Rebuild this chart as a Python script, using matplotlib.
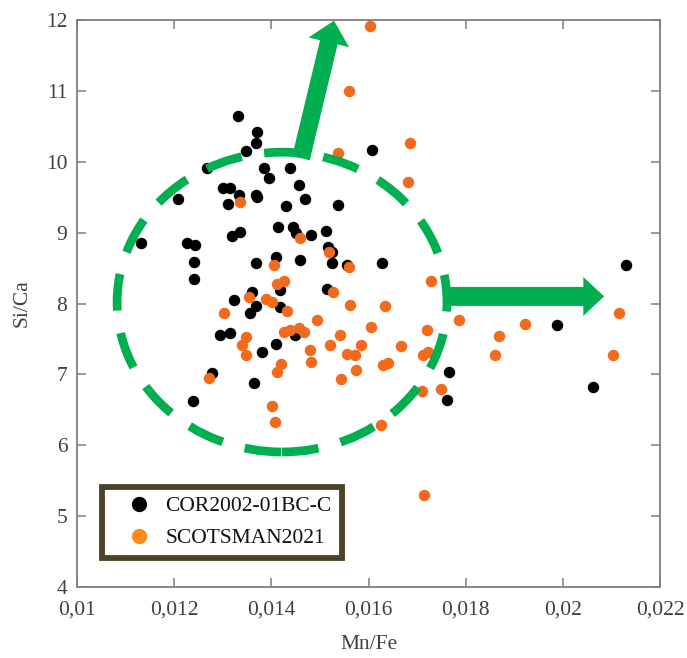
import matplotlib
matplotlib.use('Agg')
import matplotlib.pyplot as plt
from matplotlib.patches import Ellipse, ArrowStyle
from matplotlib.lines import Line2D

plt.rcParams['font.family'] = ['Liberation Serif', 'DejaVu Serif']

# COR2002-01BC-C (black)
cor_mnfe = [0.01331, 0.01371, 0.01368, 0.01347, 0.01607, 0.01267, 0.01384, 0.01438,
            0.01395, 0.01457, 0.01300, 0.01315, 0.01207, 0.01334, 0.01368, 0.01370,
            0.01310, 0.01469, 0.01430, 0.01538, 0.01414, 0.01445, 0.01451, 0.01481,
            0.01512, 0.01320, 0.01336, 0.01132, 0.01226, 0.01243, 0.01241, 0.01241,
            0.01517, 0.01525, 0.01525, 0.01555, 0.01627, 0.01368, 0.01410, 0.01458,
            0.01418, 0.01514, 0.01361, 0.01323, 0.01368, 0.01356, 0.01418, 0.01449,
            0.01294, 0.01315, 0.01410, 0.01380, 0.01277, 0.01364, 0.01238, 0.01766,
            0.01762, 0.01987, 0.02129, 0.02063]
cor_sica = [10.64, 10.42, 10.27, 10.15, 10.17, 9.91, 9.91, 9.91,
            9.77, 9.67, 9.63, 9.63, 9.47, 9.53, 9.53, 9.50,
            9.41, 9.47, 9.37, 9.39, 9.08, 9.08, 8.99, 8.97,
            9.02, 8.95, 9.01, 8.85, 8.85, 8.82, 8.59, 8.34,
            8.80, 8.73, 8.57, 8.55, 8.57, 8.57, 8.66, 8.62,
            8.19, 8.20, 8.16, 8.05, 7.96, 7.87, 7.95, 7.55,
            7.55, 7.59, 7.43, 7.31, 7.02, 6.88, 6.63, 7.03,
            6.64, 7.69, 8.54, 6.82]

# SCOTSMAN2021 (orange)
sco_mnfe = [0.01603, 0.01559, 0.01538, 0.01336, 0.01685, 0.01682, 0.01458, 0.01519,
            0.01560, 0.01406, 0.01411, 0.01426, 0.01353, 0.01390, 0.01401, 0.01432,
            0.01303, 0.01526, 0.01562, 0.01634, 0.01729, 0.01495, 0.01605, 0.01467,
            0.01426, 0.01438, 0.01456, 0.01541, 0.01720, 0.01786, 0.01869, 0.01922,
            0.02116, 0.02104, 0.01860, 0.01347, 0.01339, 0.01348, 0.01480, 0.01521,
            0.01585, 0.01666, 0.01556, 0.01573, 0.01482, 0.01629, 0.01641, 0.01574,
            0.01713, 0.01722, 0.01543, 0.01420, 0.01412, 0.01272, 0.01711, 0.01749,
            0.01402, 0.01408, 0.01625, 0.01715]
sco_sica = [11.92, 11.00, 10.12, 9.43, 10.27, 9.71, 8.92, 8.73,
            8.52, 8.54, 8.28, 8.32, 8.09, 8.07, 8.02, 7.90,
            7.87, 8.16, 7.98, 7.96, 8.32, 7.77, 7.67, 7.60,
            7.60, 7.63, 7.65, 7.56, 7.62, 7.77, 7.54, 7.71,
            7.87, 7.28, 7.27, 7.53, 7.41, 7.27, 7.34, 7.41,
            7.41, 7.40, 7.29, 7.28, 7.17, 7.13, 7.16, 7.06,
            7.28, 7.32, 6.93, 7.15, 7.03, 6.95, 6.76, 6.79,
            6.55, 6.33, 6.28, 5.30]

xticks = [0.010, 0.012, 0.014, 0.016, 0.018, 0.020, 0.022]
xtick_labels = ['0,01', '0,012', '0,014', '0,016', '0,018', '0,02', '0,022']
yticks = [4, 5, 6, 7, 8, 9, 10, 11, 12]

green = '#00B050'
orange = '#F26A1B'

fig = plt.figure(figsize=(6.87, 6.58), dpi=100)
ax = fig.add_axes([0.1121, 0.1079, 0.8486, 0.8617])

ax.scatter(cor_mnfe, cor_sica, s=68, color='black', linewidths=0, zorder=3)
ax.scatter(sco_mnfe, sco_sica, s=68, color=orange, linewidths=0, zorder=4)

ax.set_xlim(0.010, 0.022)
ax.set_ylim(4, 12)
ax.set_xticks(xticks)
ax.set_xticklabels(xtick_labels)
ax.set_yticks(yticks)

for s in ax.spines.values():
    s.set_color('#7f7f7f')
    s.set_linewidth(1.3)
ax.tick_params(direction='in', length=6.5, width=1.1, color='#7f7f7f',
               top=True, right=True, labelsize=15.5, labelcolor='#404040')
ax.tick_params(axis='x', pad=10)
ax.tick_params(axis='y', pad=7)

ax.set_xlabel('Mn/Fe', fontsize=15.5, color='#404040', labelpad=11)
ax.set_ylabel('Si/Ca', fontsize=15.5, color='#404040', labelpad=10)

# dashed green circle round the main cluster
ell = Ellipse((0.01422, 8.02), 0.00679, 4.23, fill=False, edgecolor=green,
              linewidth=6.3, linestyle=(0, (4.2, 2.6)), zorder=5)
ax.add_patch(ell)

# green arrows
ax.annotate('', xy=(0.01529, 11.99), xytext=(0.01461, 10.05),
            arrowprops=dict(arrowstyle=ArrowStyle.Simple(head_length=16, head_width=30, tail_width=13),
                            mutation_scale=1, color=green, shrinkA=0, shrinkB=0, lw=0),
            zorder=6)
ax.annotate('', xy=(0.02085, 8.10), xytext=(0.017534, 8.10),
            arrowprops=dict(arrowstyle=ArrowStyle.Simple(head_length=15, head_width=28, tail_width=13.7),
                            mutation_scale=1, color=green, shrinkA=0, shrinkB=0, lw=0),
            zorder=6)

handles = [Line2D([], [], marker='o', linestyle='', markersize=10, color='black'),
           Line2D([], [], marker='o', linestyle='', markersize=10, color='#FF8A1E')]
leg = ax.legend(handles, ['COR2002-01BC-C', 'SCOTSMAN2021'], loc='lower left',
                bbox_to_anchor=(0.043, 0.051), fontsize=15.5, frameon=True,
                fancybox=False, framealpha=1, borderpad=0.45, handlelength=2.5,
                handletextpad=0.0, labelspacing=0.55, borderaxespad=0)
leg.get_frame().set_edgecolor('#4A4328')
leg.get_frame().set_linewidth(4.2)
for t in leg.get_texts():
    t.set_color('#111111')

fig.savefig('out.png', dpi=100)
